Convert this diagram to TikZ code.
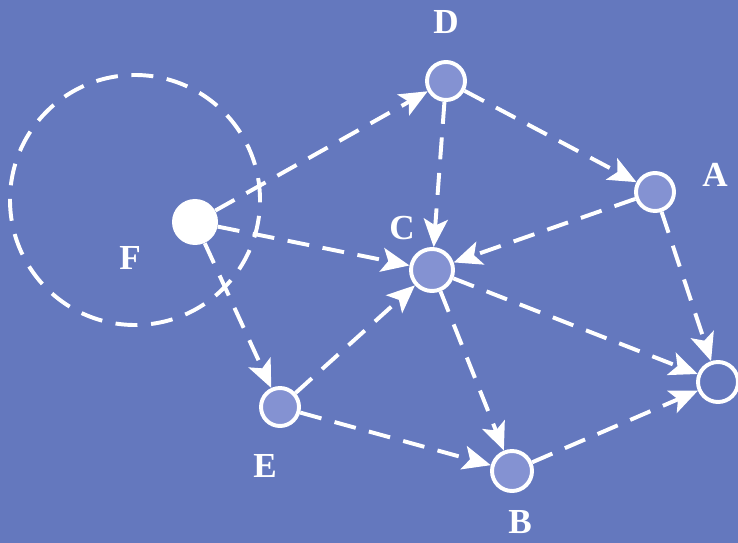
\documentclass[tikz,border=0pt]{standalone}
\usepackage{fontspec}
\setmainfont{Liberation Serif}
\usetikzlibrary{arrows.meta,positioning}
\definecolor{bgblue}{RGB}{100,120,190}
\definecolor{nodeblue}{RGB}{132,146,210}

\begin{document}
\begin{tikzpicture}[
  x=1cm, y=1cm,
  site/.style={circle, draw=white, line width=2.8pt, fill=nodeblue,
               minimum size=9.5mm, inner sep=0pt},
  src/.style={circle, fill=white, minimum size=11.5mm, inner sep=0pt},
  lbl/.style={text=white, font=\fontsize{25}{27}\selectfont\bfseries,
              inner sep=1pt},
  flow/.style={-{Stealth[length=7mm, width=6mm, inset=1.6mm]}, white,
               line width=2.8pt, dash pattern=on 5.5mm off 3.4mm},
  zone/.style={white, line width=2.8pt, dash pattern=on 5.5mm off 3.4mm},
]
\fill[bgblue] (0,0) rectangle (18.45,-13.575);
\useasboundingbox (0,0) rectangle (18.45,-13.575);

% ---------------- range of F --------------------------------------------
\draw[zone] (3.375,-5.0) circle (3.125);

% ---------------- nodes -------------------------------------------------
\node[src] (F) at (4.875,-5.55) {};
\node[site] (D) at (11.15,-2.025) {};
\node[site] (A) at (16.375,-4.8) {};
\node[site, minimum size=10.5mm] (C) at (10.8,-6.75) {};
\node[site] (E) at (7.0,-10.175) {};
\node[site, minimum size=10mm] (B) at (12.8,-11.775) {};
\node[site, fill=bgblue, minimum size=10mm] (G) at (17.95,-9.55) {};

% ---------------- labels ------------------------------------------------
\node[lbl] (lD) at (11.15,-0.55) {D};
\node[lbl] (lA) at (17.875,-4.375) {A};
\node[lbl] (lC) at (10.05,-5.7) {C};
\node[lbl] (lF) at (3.25,-6.45) {F};
\node[lbl] (lE) at (6.625,-11.65) {E};
\node[lbl] (lB) at (13.0,-13.05) {B};

% ---------------- links -------------------------------------------------
\draw[flow] (F) -- (D);
\draw[flow] (F) -- (C);
\draw[flow] (F) -- (E);
\draw[flow] (D) -- (C);
\draw[flow] (D) -- (A);
\draw[flow] (A) -- (C);
\draw[flow] (A) -- (G);
\draw[flow] (C) -- (G);
\draw[flow] (C) -- (B);
\draw[flow] (E) -- (C);
\draw[flow] (E) -- (B);
\draw[flow] (B) -- (G);

\end{tikzpicture}
\end{document}
